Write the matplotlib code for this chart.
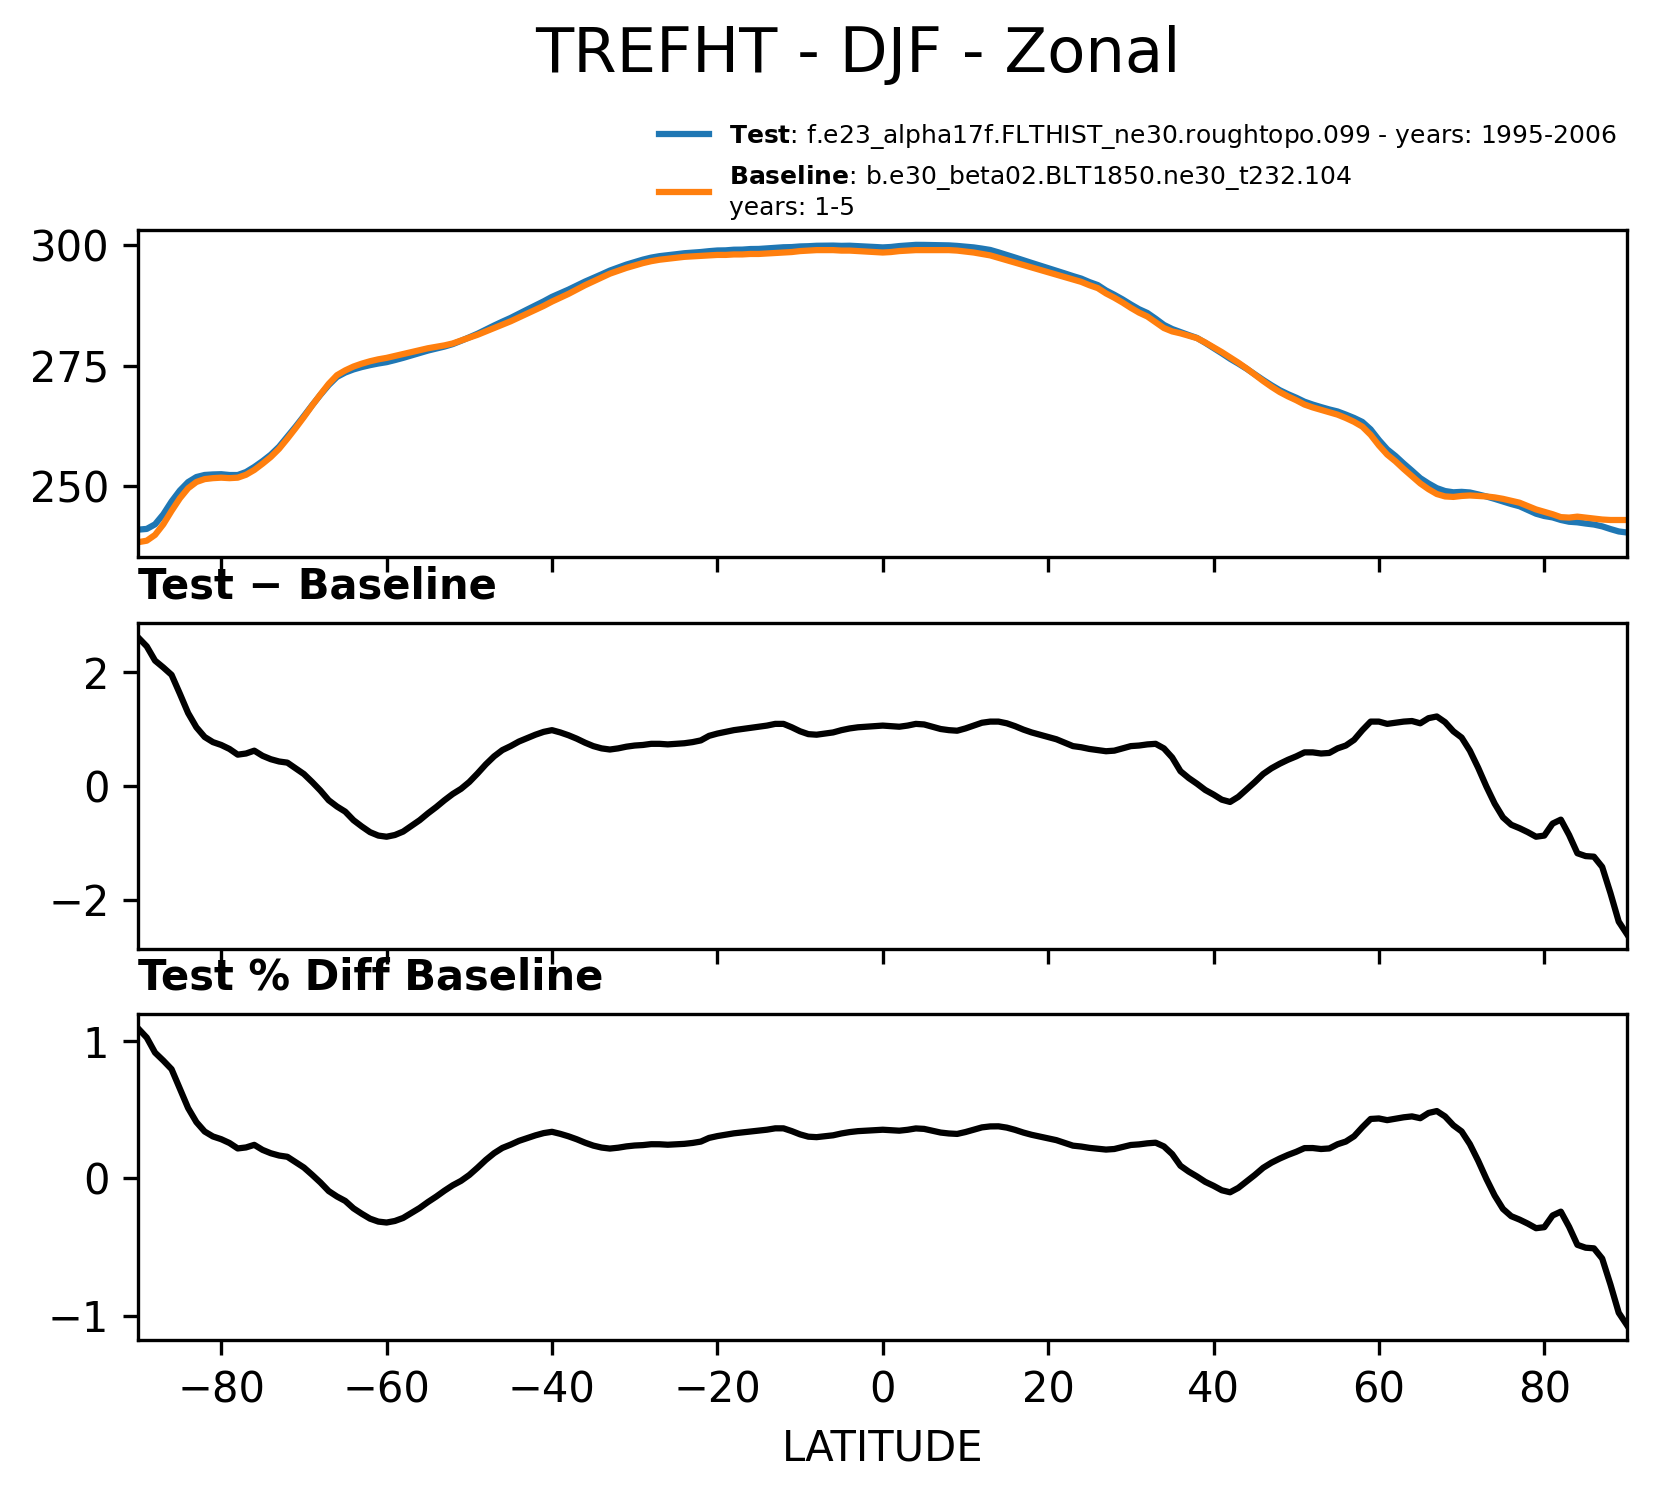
import numpy as np
import matplotlib
matplotlib.use("Agg")
import matplotlib.pyplot as plt

# latitude grid (1 degree)
lat = np.arange(-90, 91, 1)

# baseline zonal mean TREFHT (K)
baseline = [
    238.3, 238.6, 239.8, 242.0, 244.8, 247.4, 249.5, 250.8, 251.4, 251.6,
    251.7, 251.6, 251.7, 252.3, 253.3, 254.6, 256.0, 257.7, 259.8, 262.0,
    264.3, 266.7, 269.0, 271.2, 273.0, 274.0, 274.8, 275.4, 275.9, 276.3,
    276.6, 277.0, 277.4, 277.8, 278.2, 278.6, 278.9, 279.2, 279.6, 280.2,
    280.8, 281.4, 282.1, 282.8, 283.5, 284.2, 285.0, 285.8, 286.6, 287.4,
    288.3, 289.1, 289.9, 290.8, 291.7, 292.5, 293.3, 294.1, 294.7, 295.3,
    295.8, 296.3, 296.7, 297.0, 297.2, 297.4, 297.6, 297.7, 297.8, 297.9,
    298.0, 298.0, 298.1, 298.1, 298.2, 298.2, 298.3, 298.4, 298.5, 298.6,
    298.8, 298.9, 299.0, 299.0, 299.0, 298.9, 298.9, 298.8, 298.7, 298.6,
    298.5, 298.6, 298.8, 298.9, 299.0, 299.0, 299.0, 299.0, 299.0, 298.9,
    298.7, 298.5, 298.2, 297.9, 297.4, 296.9, 296.4, 295.9, 295.4, 294.9,
    294.4, 293.9, 293.4, 292.9, 292.4, 291.7, 291.1, 290.0, 289.1, 288.1,
    287.0, 286.0, 285.2, 284.0, 282.8, 282.1, 281.7, 281.2, 280.7, 279.8,
    278.8, 277.8, 276.7, 275.6, 274.4, 273.1, 271.8, 270.6, 269.5, 268.6,
    267.8, 266.9, 266.3, 265.8, 265.3, 264.8, 264.1, 263.3, 262.3, 260.6,
    258.4, 256.5, 255.1, 253.5, 252.0, 250.5, 249.3, 248.3, 247.8, 247.7,
    247.9, 248.0, 247.9, 247.8, 247.6, 247.3, 246.9, 246.5, 245.8, 245.1,
    244.6, 244.1, 243.5, 243.4, 243.6, 243.4, 243.2, 243.0, 242.9, 242.9,
    242.9,
]

# test minus baseline (K)
diff = [
    2.60, 2.45, 2.20, 2.08, 1.95, 1.62, 1.28, 1.03, 0.86, 0.77,
    0.72, 0.65, 0.55, 0.57, 0.62, 0.53, 0.47, 0.43, 0.41, 0.31,
    0.21, 0.07, -0.08, -0.25, -0.36, -0.45, -0.60, -0.71, -0.81, -0.87,
    -0.89, -0.86, -0.80, -0.70, -0.60, -0.48, -0.37, -0.25, -0.14, -0.05,
    0.07, 0.22, 0.38, 0.52, 0.63, 0.70, 0.78, 0.84, 0.90, 0.95,
    0.98, 0.94, 0.89, 0.83, 0.76, 0.70, 0.66, 0.64, 0.66, 0.69,
    0.71, 0.72, 0.74, 0.74, 0.73, 0.74, 0.75, 0.77, 0.80, 0.88,
    0.92, 0.95, 0.98, 1.00, 1.02, 1.04, 1.06, 1.09, 1.09, 1.03,
    0.96, 0.91, 0.90, 0.92, 0.94, 0.98, 1.01, 1.03, 1.04, 1.05,
    1.06, 1.05, 1.04, 1.06, 1.09, 1.08, 1.04, 1.00, 0.98, 0.97,
    1.01, 1.06, 1.11, 1.13, 1.13, 1.10, 1.05, 0.99, 0.94, 0.90,
    0.86, 0.82, 0.76, 0.70, 0.68, 0.65, 0.63, 0.61, 0.62, 0.66,
    0.70, 0.71, 0.73, 0.74, 0.66, 0.50, 0.26, 0.14, 0.04, -0.07,
    -0.15, -0.24, -0.28, -0.19, -0.06, 0.07, 0.21, 0.31, 0.39, 0.46,
    0.52, 0.59, 0.59, 0.57, 0.58, 0.66, 0.71, 0.81, 0.98, 1.13,
    1.13, 1.09, 1.11, 1.13, 1.14, 1.10, 1.19, 1.22, 1.12, 0.96,
    0.85, 0.62, 0.32, -0.01, -0.31, -0.55, -0.68, -0.74, -0.81, -0.89,
    -0.87, -0.66, -0.59, -0.86, -1.18, -1.23, -1.24, -1.42, -1.88, -2.38,
    -2.60,
]

lat_ticks = [-80, -60, -40, -20, 0, 20, 40, 60, 80]
top_yticks = [250, 275, 300]
diff_yticks = [-2, 0, 2]
pct_yticks = [-1, 0, 1]

test_name = "f.e23_alpha17f.FLTHIST_ne30.roughtopo.099 - years: 1995-2006"
base_name = "b.e30_beta02.BLT1850.ne30_t232.104\nyears: 1-5"

baseline = np.array(baseline)
diff = np.array(diff)
test = baseline + diff
pct = diff / baseline * 100.0

fig = plt.figure(figsize=(5.52, 1496 / 300), dpi=300)
W, H = 1656, 1496
left = 138.5 / W
width = (1627 - 138.5) / W
ax1 = fig.add_axes([left, 1 - 557 / H, width, (557 - 230) / H])
ax2 = fig.add_axes([left, 1 - 949 / H, width, (949 - 623) / H])
ax3 = fig.add_axes([left, 1 - 1340 / H, width, (1340 - 1014) / H])

ax1.plot(lat, test, color="#1f77b4", lw=1.5,
         label=r"$\bf{Test}$: " + test_name)
ax1.plot(lat, baseline, color="#ff7f0e", lw=1.5,
         label=r"$\bf{Baseline}$: " + base_name)
ax1.set_yticks(top_yticks)
ax1.legend(loc="lower right", bbox_to_anchor=(1, 1), frameon=False,
           fontsize=6, borderaxespad=0)

ax2.plot(lat, diff, color="black", lw=1.5)
ax2.set_yticks(diff_yticks)
ax2.set_title("Test \u2212 Baseline", loc="left", fontweight="bold", fontsize=10)

ax3.plot(lat, pct, color="black", lw=1.5)
ax3.set_yticks(pct_yticks)
ax3.set_title("Test % Diff Baseline", loc="left", fontweight="bold", fontsize=10)
ax3.set_xlabel("LATITUDE", fontsize=10)

for ax in (ax1, ax2, ax3):
    ax.set_xlim(-90, 90)
    ax.set_xticks(lat_ticks)
    ax.tick_params(labelsize=10)
for ax in (ax1, ax2):
    ax.tick_params(labelbottom=False)

fig.text(0.518, 1 - 55 / H, "TREFHT - DJF - Zonal", fontsize=15,
         ha="center", va="center")

fig.savefig("out.png", dpi=300, facecolor="white")
